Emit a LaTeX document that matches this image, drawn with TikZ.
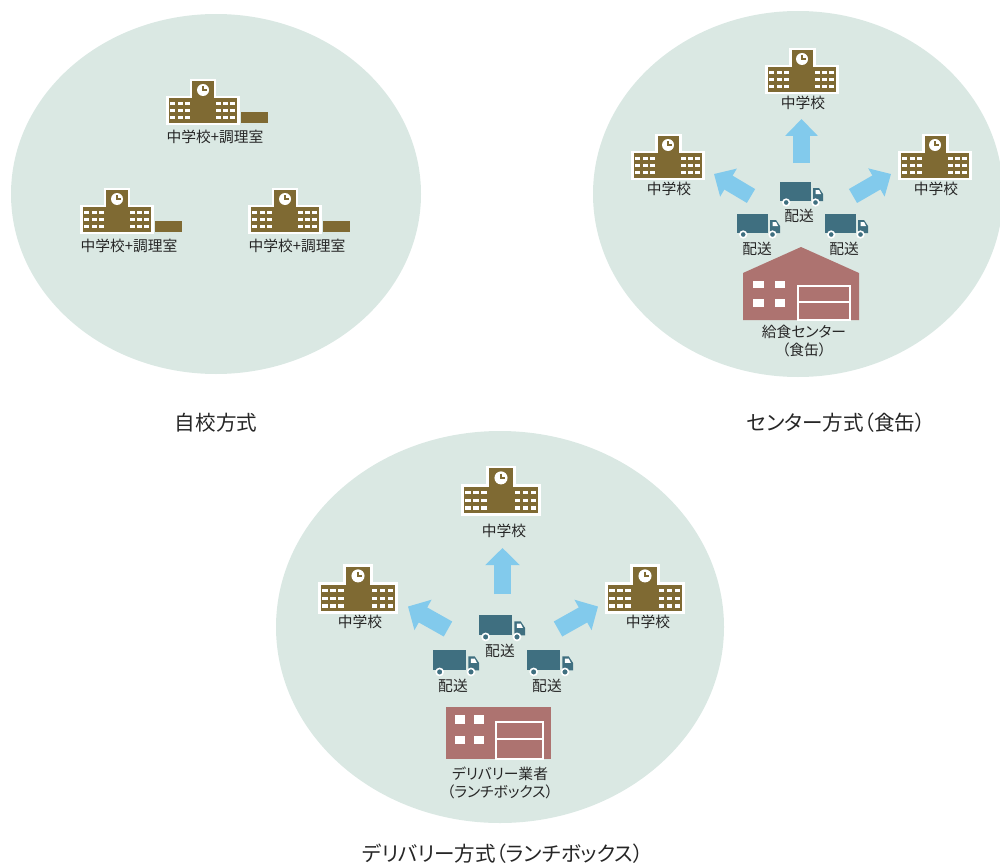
\documentclass[tikz,border=0pt]{standalone}
\usepackage{fontspec}
\setmainfont[RawFeature=+palt]{Noto Sans CJK JP}
\usetikzlibrary{arrows.meta}

\definecolor{areagreen}{HTML}{DAE8E3}
\definecolor{schoolbrown}{HTML}{7F6A33}
\definecolor{truckblue}{HTML}{3F6F80}
\definecolor{factoryred}{HTML}{AD7370}
\definecolor{arrowblue}{HTML}{82CAEC}
\definecolor{labelgray}{HTML}{262626}

\tikzset{
  area/.style={fill=areagreen,draw=none},
  smalllabel/.style={font=\fontsize{8.4pt}{10.4pt}\selectfont,text=labelgray,inner sep=0pt,align=center},
  biglabel/.style={font=\fontsize{11.7pt}{13pt}\selectfont,text=labelgray,inner sep=0pt},
  flow/.style={draw=arrowblue,line width=9.2pt,-{Triangle[length=9.6pt,width=18pt]}},
  bigflow/.style={draw=arrowblue,line width=9.8pt,-{Triangle[length=9.8pt,width=19.3pt]}},
  brick/.style={fill=schoolbrown,draw=white,line width=1.7pt},
  pane/.style={fill=white,draw=none},
  wall/.style={fill=factoryred,draw=none},
  shutter/.style={draw=white,line width=0.9pt}
}

% school: #1,#2 = top of the tower, #3 = scale
\newcommand{\schoolbldg}[3]{
\begin{scope}[shift={(#1,#2)},scale=#3]
\draw[brick] (-35.5,17) -- (-12,17) -- (-12,0) -- (12,0) -- (12,17) -- (35.5,17) -- (35.5,44) -- (-35.5,44) -- cycle;
\fill[white] (0,10) circle (6);
\draw[schoolbrown,line width=0.8pt] (0,6) -- (0,10) -- (3.5,10);
\foreach \sx in {-32.7,-25.3,-18,12.7,20,27.3} {
  \foreach \sy in {22,29,36} {
    \fill[pane] (\sx,\sy) rectangle ++(5,3.2);
  }
}
\end{scope}
}

% kitchen beside the school
\newcommand{\kitchenbldg}[2]{
\fill[schoolbrown] (#1+38,#2+32) rectangle (#1+65,#2+43);
}

% truck: #1,#2 = top left of the box, #3 = scale
\newcommand{\truckicon}[3]{
\begin{scope}[shift={(#1,#2)},scale=#3]
\fill[truckblue] (0,0) rectangle (31,19);
\fill[truckblue] (33,6) -- (39,6) -- (43,12) -- (43,19) -- (33,19) -- cycle;
\fill[white] (35.5,8) -- (39,8) -- (41,12) -- (35.5,12) -- cycle;
\filldraw[fill=truckblue,draw=white,line width=0.9pt] (6.2,20.5) circle (3.3);
\filldraw[fill=truckblue,draw=white,line width=0.9pt] (35.5,20.5) circle (3.3);
\end{scope}
}

\begin{document}
\begin{tikzpicture}[x=0.02cm,y=-0.02cm]
\useasboundingbox (0,0) rectangle (1000,865);
\clip (0,0) rectangle (1000,865);

\fill[area] (216,194) ellipse (205 and 180);
\fill[area] (798,194) ellipse (205 and 183);
\fill[area] (500,627) ellipse (224 and 196);

% own kitchen
\schoolbldg{203}{80}{1}
\schoolbldg{117}{189}{1}
\schoolbldg{285}{189}{1}
\kitchenbldg{203}{80}
\kitchenbldg{117}{189}
\kitchenbldg{285}{189}
\node[smalllabel] (kitchenA) at (215,137) {中学校+調理室};
\node[smalllabel] (kitchenB) at (129,246) {中学校+調理室};
\node[smalllabel] (kitchenC) at (297,246) {中学校+調理室};
\node[biglabel] (ownlabel) at (216,423) {自校方式};

% center
\coordinate (CA) at (801.5,163);
\coordinate (CB) at (801.5,119);
\coordinate (CC) at (751,196);
\coordinate (CD) at (714,174);
\coordinate (CE) at (853,196);
\coordinate (CF) at (891,174);
\draw[flow] (CA) -- (CB);
\draw[flow] (CC) -- (CD);
\draw[flow] (CE) -- (CF);

\schoolbldg{802}{49}{1}
\schoolbldg{668}{135}{1}
\schoolbldg{935}{135}{1}
\node[smalllabel] (centerA) at (803,103) {中学校};
\node[smalllabel] (centerB) at (669,189) {中学校};
\node[smalllabel] (centerC) at (936,189) {中学校};

\truckicon{780}{182}{1}
\truckicon{737}{214}{1}
\truckicon{825}{214}{1}
\node[smalllabel] (sendA) at (799,216) {配送};
\node[smalllabel] (sendB) at (757,249) {配送};
\node[smalllabel] (sendC) at (844,249) {配送};

\fill[wall] (743,273) -- (801,247) -- (859,273) -- (859,320) -- (743,320) -- cycle;
\fill[pane] (753,281) rectangle (764,288);
\fill[pane] (775,281) rectangle (785,288);
\fill[pane] (753,299) rectangle (764,307);
\fill[pane] (775,299) rectangle (785,307);
\draw[shutter] (798,320) -- (798,286) -- (850,286) -- (850,320) -- cycle;
\draw[shutter] (798,302) -- (850,302);
\node[smalllabel] (factorylabel) at (804,341) {給食センター\\（食缶）};
\node[biglabel] (centerlabel) at (836,423) {センター方式（食缶）};

% delivery
\coordinate (DA) at (502.5,594);
\coordinate (DB) at (502.5,548);
\coordinate (DC) at (448,629);
\coordinate (DD) at (408,606.5);
\coordinate (DE) at (558,629);
\coordinate (DF) at (598,606.5);
\draw[bigflow] (DA) -- (DB);
\draw[bigflow] (DC) -- (DD);
\draw[bigflow] (DE) -- (DF);

\schoolbldg{501}{467}{1.09}
\schoolbldg{358}{565}{1.09}
\schoolbldg{645}{565}{1.09}
\node[smalllabel] (deliverA) at (504,531) {中学校};
\node[smalllabel] (deliverB) at (360,622) {中学校};
\node[smalllabel] (deliverC) at (648,622) {中学校};

\truckicon{479}{615}{1.07}
\truckicon{433}{650}{1.07}
\truckicon{527}{650}{1.07}
\node[smalllabel] (sendD) at (500,651) {配送};
\node[smalllabel] (sendE) at (453,686) {配送};
\node[smalllabel] (sendF) at (547,686) {配送};

\fill[wall] (446,707) rectangle (551,759);
\fill[pane] (455,715) rectangle (465,724);
\fill[pane] (474,715) rectangle (484,724);
\fill[pane] (455,736) rectangle (465,744);
\fill[pane] (474,736) rectangle (484,744);
\draw[shutter] (496,759) -- (496,722) -- (543,722) -- (543,759) -- cycle;
\draw[shutter] (496,739) -- (543,739);
\node[smalllabel] (vendorlabel) at (500,783) {デリバリー業者\\（ランチボックス）};
\node[biglabel] (deliverlabel) at (503,854) {デリバリー方式（ランチボックス）};
\end{tikzpicture}
\end{document}
